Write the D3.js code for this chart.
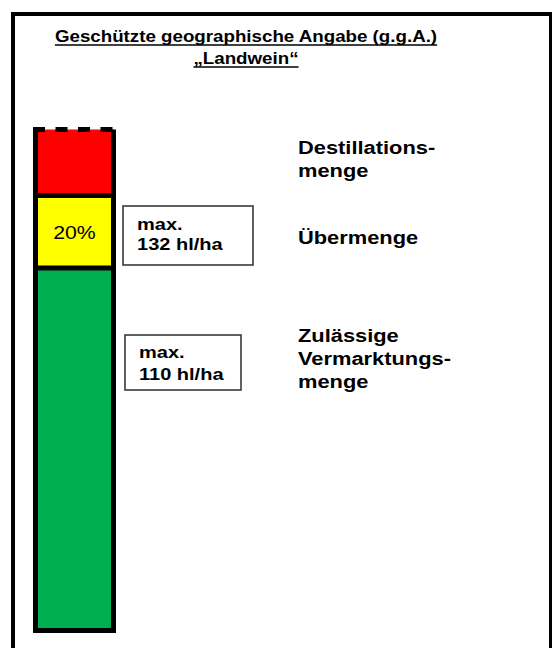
<!DOCTYPE html>
<html><head><meta charset="utf-8">
<script src="https://cdn.jsdelivr.net/npm/d3@7/dist/d3.min.js"></script>
<style>
html,body{margin:0;padding:0;background:#fff;}
svg{display:block;}
text{font-family:"Liberation Sans",Arial,sans-serif;}
</style></head>
<body>
<script>
// ---- data ----
const titleLines = ["Geschützte geographische Angabe (g.g.A.)", "„Landwein“"];
const category = ["g.g.A. Landwein"];
const segmentNames = ["Zulässige Vermarktungsmenge", "Übermenge", "Destillationsmenge"];
const segmentValues = [110, 22, 20];           // hl/ha (last one open-ended, estimated)
const segmentLabelLines = [["Zulässige", "Vermarktungs-", "menge"], ["Übermenge"], ["Destillations-", "menge"]];
const maxValues = [110, 132];                  // hl/ha
const maxPrefix = "max.";
const unit = "hl/ha";
const percentLabel = "20%";

// ---- styles ----
const segColors = ["#00B050", "#FFFF00", "#FF0000"];
const SX = 1.15; // horizontal text stretch of the original

const W = 552, H = 648;
const svg = d3.select("body").append("svg").attr("width", W).attr("height", H);
svg.append("rect").attr("width", W).attr("height", H).attr("fill", "#fff");

// outer frame
svg.append("rect").attr("x", 13).attr("y", 14).attr("width", 538).attr("height", 700)
  .attr("fill", "none").attr("stroke", "#000").attr("stroke-width", 4);

function stext(g, x, y, str, size, weight, anchor) {
  return g.append("text")
    .attr("transform", `translate(${x},${y}) scale(${SX},1)`)
    .attr("font-size", size).attr("font-weight", weight)
    .attr("text-anchor", anchor || "start").attr("fill", "#000").text(str);
}

// title
const titleG = svg.append("g");
[[42, 16.3], [64, 16.3]].forEach((p, i) => {
  const t = stext(titleG, 246, p[0], titleLines[i], p[1], "bold", "middle");
  const w = t.node().getBBox().width * SX;
  titleG.append("line").attr("x1", 246 - w / 2).attr("x2", 246 + w / 2)
    .attr("y1", p[0] + 3).attr("y2", p[0] + 3).attr("stroke", "#000").attr("stroke-width", 1.6);
});

// scales
const total = d3.sum(segmentValues);
const y = d3.scaleLinear().domain([0, total]).range([630.5, 129.5]);
const x = d3.scaleBand().domain(category).range([35.5, 113.5]).padding(0);

const stack = [];
let acc = 0;
segmentValues.forEach((v, i) => { stack.push({ name: segmentNames[i], y0: acc, y1: acc + v, i }); acc += v; });

const barG = svg.append("g");
barG.selectAll("rect.seg").data(stack).join("rect").attr("class", "seg")
  .attr("x", x(category[0])).attr("width", x.bandwidth())
  .attr("y", d => y(d.y1)).attr("height", d => y(d.y0) - y(d.y1))
  .attr("fill", d => segColors[d.i]);

barG.selectAll("line.sep").data(stack.slice(0, -1)).join("line").attr("class", "sep")
  .attr("x1", x(category[0])).attr("x2", x(category[0]) + x.bandwidth())
  .attr("y1", d => y(d.y1)).attr("y2", d => y(d.y1))
  .attr("stroke", "#000").attr("stroke-width", 5);

const x0 = x(category[0]), x1 = x0 + x.bandwidth();
barG.append("path")
  .attr("d", `M${x0},${y(total)} L${x0},${y(0)} L${x1},${y(0)} L${x1},${y(total)}`)
  .attr("fill", "none").attr("stroke", "#000").attr("stroke-width", 5).attr("stroke-linejoin", "miter");
barG.append("line").attr("x1", x0 - 2.5).attr("x2", x1 + 2.5)
  .attr("y1", y(total)).attr("y2", y(total))
  .attr("stroke", "#000").attr("stroke-width", 5).attr("stroke-dasharray", "12,10.5");

stext(barG, (x0 + x1) / 2, (y(stack[1].y0) + y(stack[1].y1)) / 2 + 7, percentLabel, 18.5, "normal", "middle");

// max boxes
const boxes = [
  { v: maxValues[1], x: 123, y: 206, w: 130, h: 59, tx: 137, b1: 230, b2: 250 },
  { v: maxValues[0], x: 125, y: 335, w: 116, h: 55, tx: 139, b1: 358, b2: 380 }
];
const boxG = svg.append("g");
boxes.forEach(b => {
  boxG.append("rect").attr("x", b.x).attr("y", b.y).attr("width", b.w).attr("height", b.h)
    .attr("fill", "#fff").attr("stroke", "#3a3a3a").attr("stroke-width", 1.6);
  stext(boxG, b.tx, b.b1, maxPrefix, 17.4, "bold");
  stext(boxG, b.tx, b.b2, `${b.v} ${unit}`, 17.4, "bold");
});

// right labels
const labelBaselines = [[342, 365, 388], [244], [154, 177]];
const labG = svg.append("g");
segmentLabelLines.forEach((lines, i) => {
  lines.forEach((ln, j) => stext(labG, 298, labelBaselines[i][j], ln, 19, "bold"));
});
</script>
</body></html>
